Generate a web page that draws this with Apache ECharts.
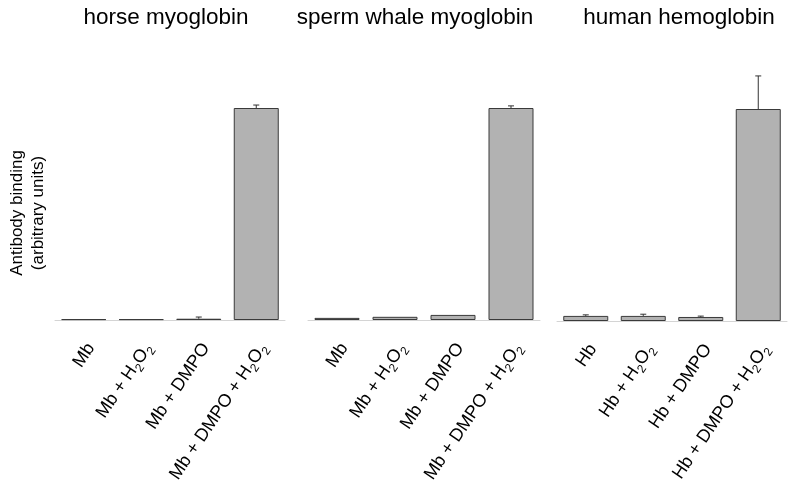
<!DOCTYPE html>
<html><head><meta charset="utf-8">
<script src="https://cdn.jsdelivr.net/npm/echarts@6/dist/echarts.min.js"></script>
<style>html,body{margin:0;padding:0;background:#fff}#c{width:800px;height:491px}</style>
</head><body><div id="c"></div>
<script>
const panelTitles = ['horse myoglobin', 'sperm whale myoglobin', 'human hemoglobin'];
const horseCategories = ['Mb', 'Mb + H2O2', 'Mb + DMPO', 'Mb + DMPO + H2O2'];
const whaleCategories = ['Mb', 'Mb + H2O2', 'Mb + DMPO', 'Mb + DMPO + H2O2'];
const humanCategories = ['Hb', 'Hb + H2O2', 'Hb + DMPO', 'Hb + DMPO + H2O2'];
const horseValues = [0.4, 0.4, 0.6, 100];
const horseErrors = [0, 0, 0.8, 1.4];
const whaleValues = [1.0, 1.5, 2.4, 100];
const whaleErrors = [0, 0, 0, 1.0];
const humanValues = [2.4, 2.4, 1.9, 100];
const humanErrors = [0.5, 0.8, 0.4, 15.6];
const yAxisName = 'Antibody binding\n(arbitrary units)';

const FONT = 'Liberation Sans, Arial, Helvetica, sans-serif';
const panels = [
  {cats: horseCategories, vals: horseValues, errs: horseErrors},
  {cats: whaleCategories, vals: whaleValues, errs: whaleErrors},
  {cats: humanCategories, vals: humanValues, errs: humanErrors}
];
const grids = [
  {left: 55, width: 230, top: 65.6, bottom: 171},
  {left: 308, width: 232, top: 65.6, bottom: 171},
  {left: 557, width: 230, top: 66.6, bottom: 170}
];
const titleX = [161, 410, 674];

const option = {
  animation: false,
  backgroundColor: '#fff',
  title: panelTitles.map((t, i) => ({
    text: t, left: titleX[i], top: 1, textAlign: 'center',
    textStyle: {fontFamily: FONT, fontSize: 22.5, fontWeight: 'normal', color: '#000'}
  })),
  grid: grids,
  xAxis: panels.map((p, i) => ({
    type: 'category', gridIndex: i, data: p.cats,
    axisLine: {show: true, lineStyle: {color: '#d4d4d4', width: 1}},
    axisTick: {show: false},
    splitLine: {show: false},
    axisLabel: {
      interval: 0, rotate: 56, margin: 8,
      fontFamily: FONT, fontSize: 18, color: '#000', lineHeight: 24,
      padding: [31, 10, 0, 0],
      formatter: v => v.replace(/2/g, '{s|2}'),
      rich: {s: {fontFamily: FONT, fontSize: 12, color: '#000', verticalAlign: 'bottom'}}
    }
  })),
  yAxis: panels.map((p, i) => ({
    type: 'value', gridIndex: i, min: 0, max: 120, show: false, splitLine: {show: false}
  })),
  graphic: [{
    type: 'text', x: 27.5, y: 213, rotation: Math.PI / 2,
    style: {text: yAxisName, font: '17px ' + FONT, fill: '#000', align: 'center', verticalAlign: 'middle', lineHeight: 21}
  }],
  series: []
};

panels.forEach((p, i) => {
  option.series.push({
    type: 'bar', xAxisIndex: i, yAxisIndex: i, data: p.vals, barWidth: 45,
    itemStyle: {color: '#b2b2b2', borderColor: '#3a3a3a', borderWidth: 1},
    silent: true
  });
  option.series.push({
    type: 'custom', xAxisIndex: i, yAxisIndex: i, z: 5,
    data: p.vals.map((v, j) => [j, v, p.errs[j]]),
    renderItem: (params, api) => {
      const x = api.value(0), v = api.value(1), e = api.value(2);
      if (!e) return null;
      const a = api.coord([x, v]), b = api.coord([x, v + e]);
      return {type: 'group', children: [
        {type: 'line', shape: {x1: a[0], y1: a[1], x2: b[0], y2: b[1]}, style: {stroke: '#333', lineWidth: 1}},
        {type: 'line', shape: {x1: b[0] - 3, y1: b[1], x2: b[0] + 3, y2: b[1]}, style: {stroke: '#333', lineWidth: 1}}
      ]};
    }
  });
});

const chart = echarts.init(document.getElementById('c'), null, {renderer: 'canvas'});
chart.setOption(option);
</script></body></html>
